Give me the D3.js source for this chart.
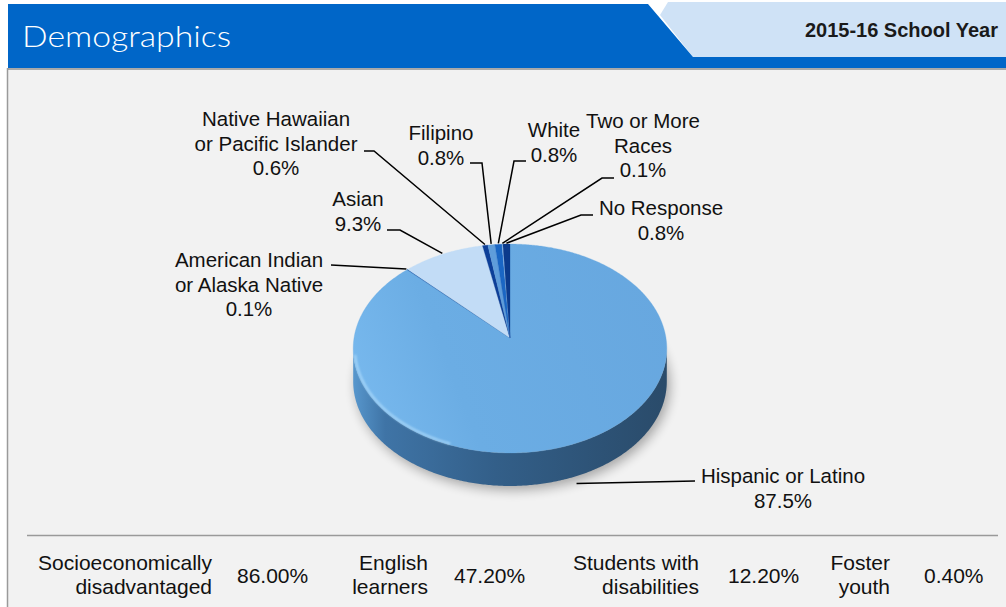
<!DOCTYPE html>
<html>
<head>
<meta charset="utf-8">
<script src="https://cdn.jsdelivr.net/npm/d3@7"></script>
<style>
  body { margin: 0; background: #fff; }
  svg { display: block; }
  text { font-family: "Liberation Sans", Arial, Helvetica, sans-serif; fill: #111; }
</style>
</head>
<body>
<div id="chart"></div>
<script>
// ---- data ----
var groups = ["Hispanic or Latino", "American Indian or Alaska Native", "Asian",
  "Native Hawaiian or Pacific Islander", "Filipino", "White", "Two or More Races", "No Response"];
var shares = [87.5, 0.1, 9.3, 0.6, 0.8, 0.8, 0.1, 0.8];
var labelLines = [["Hispanic or Latino"], ["American Indian", "or Alaska Native"], ["Asian"],
  ["Native Hawaiian", "or Pacific Islander"], ["Filipino"], ["White"], ["Two or More", "Races"], ["No Response"]];
var statNames = [["Socioeconomically", "disadvantaged"], ["English", "learners"],
  ["Students with", "disabilities"], ["Foster", "youth"]];
var statValues = [86.00, 47.20, 12.20, 0.40];
var title = "Demographics";
var yearLabel = "2015-16 School Year";

// ---- styles / layout ----
var sliceColors = ["#69aae2", "#1f5fb0", "#c2dcf6", "#0d3f99", "#5f9ddb", "#1a66c4", "#8cbcec", "#0b3a8c"];
// label placement: centre x, first baseline, leader start and optional elbow
var labelLayout = [
  {x: 783, y: 483, start: [695, 481]},
  {x: 249, y: 267, start: [331, 265]},
  {x: 358, y: 206, start: [387, 230], elbow: [400, 230]},
  {x: 276, y: 126, start: [364, 151], elbow: [374, 151]},
  {x: 441, y: 140, start: [470, 163], elbow: [482, 163]},
  {x: 554, y: 137, start: [526, 161], elbow: [514, 161]},
  {x: 643, y: 128, start: [614, 178], elbow: [602, 178]},
  {x: 661, y: 215, start: [593, 215], elbow: [581, 215]}
];
var statNameX = [212, 428, 699, 890];
var statValueX = [237, 454, 728, 924];

var width = 1006, height = 607;
var cx = 510, cy = 338, R = 156, B = 103.4, k = 0.1005, depth = 33;

var svg = d3.select("#chart").append("svg")
  .attr("width", width)
  .attr("height", height);

var defs = svg.append("defs");
defs.append("filter").attr("id", "shadowBlur").attr("x", "-20%").attr("y", "-20%")
  .attr("width", "140%").attr("height", "160%")
  .append("feGaussianBlur").attr("stdDeviation", 6);
defs.append("filter").attr("id", "softBlur")
  .append("feGaussianBlur").attr("stdDeviation", 1.2);

var wallGrad = defs.append("linearGradient").attr("id", "wallGrad")
  .attr("gradientUnits", "userSpaceOnUse")
  .attr("x1", cx - R).attr("x2", cx + R).attr("y1", 0).attr("y2", 0);
[[0, "#5796cc"], [0.1, "#3f74a6"], [0.45, "#335f89"], [0.8, "#2d5275"], [1, "#2a4b6a"]].forEach(function(s) {
  wallGrad.append("stop").attr("offset", s[0]).attr("stop-color", s[1]);
});
var topGrad = defs.append("linearGradient").attr("id", "topGrad")
  .attr("gradientUnits", "userSpaceOnUse")
  .attr("x1", cx - R).attr("y1", cy + 60).attr("x2", cx + R).attr("y2", cy - 60);
[[0, "#78b9ee"], [0.3, "#6badE4"], [1, "#67a7df"]].forEach(function(s) {
  topGrad.append("stop").attr("offset", s[0]).attr("stop-color", s[1]);
});

// ---- header ----
svg.append("rect").attr("x", 8).attr("y", 70).attr("width", width - 8).attr("height", height - 70)
  .attr("fill", "#f2f2f2");
svg.append("line").attr("x1", 7.5).attr("x2", 7.5).attr("y1", 68).attr("y2", height)
  .attr("stroke", "#9a9a9a").attr("stroke-width", 1.5);
svg.append("path")
  .attr("d", "M668,2L1006,2L1006,57L693,57L660,15Z")
  .attr("fill", "#cfe2f6");
svg.append("path")
  .attr("d", "M8,4L648,4L693,57L1006,57L1006,68L8,68Z")
  .attr("fill", "#0066c8");
svg.append("line").attr("x1", 8).attr("x2", width).attr("y1", 69).attr("y2", 69)
  .attr("stroke", "#8c8c8c").attr("stroke-width", 1.5);

svg.append("text")
  .attr("x", 22).attr("y", 47)
  .attr("textLength", 209)
  .attr("lengthAdjust", "spacingAndGlyphs")
  .style("font-family", "Lato, 'Open Sans', sans-serif")
  .style("font-weight", 300)
  .style("font-size", "30px")
  .style("fill", "#fff")
  .text(title);

svg.append("text")
  .attr("x", 998).attr("y", 37)
  .attr("text-anchor", "end")
  .style("font-weight", "bold")
  .style("font-size", "20px")
  .style("fill", "#1a1a1a")
  .text(yearLabel);

// ---- pie ----
var pie = d3.pie().sort(null).value(function(d) { return d; });
var arcs = pie(shares);

function project(a, r) {
  var u = r * Math.sin(a), v = -r * Math.cos(a), w = 1 / (1 - k * v);
  return [cx + R * u * w, cy + B * v * w];
}
function arcPoints(a0, a1, r, dy) {
  var n = Math.max(2, Math.ceil((a1 - a0) / 0.01));
  var pts = [];
  for (var i = 0; i <= n; i++) {
    var p = project(a0 + (a1 - a0) * i / n, r);
    pts.push([p[0], p[1] + (dy || 0)]);
  }
  return pts;
}
var line = d3.line();

// silhouette tangents of the projected rim
var aRight = Math.acos(-k), aLeft = 2 * Math.PI - aRight;

var pieG = svg.append("g");

// drop shadow
pieG.append("path")
  .attr("d", line(arcPoints(0, 2 * Math.PI, 1.0, depth + 4)) + "Z")
  .attr("transform", "translate(3,0)")
  .attr("fill", "#000")
  .attr("opacity", 0.32)
  .attr("filter", "url(#shadowBlur)");

// side walls
arcs.forEach(function(d, i) {
  var s = Math.max(d.startAngle, aRight), e = Math.min(d.endAngle, aLeft);
  if (s >= e) return;
  var top = arcPoints(s, e, 1, 0);
  var bottom = arcPoints(s, e, 1, depth).reverse();
  pieG.append("path")
    .attr("d", line(top.concat(bottom)) + "Z")
    .attr("fill", i === 0 ? "url(#wallGrad)" : d3.color(sliceColors[i]).darker(1.2));
});

// top faces
pieG.selectAll("path.slice")
  .data(arcs)
  .enter().append("path")
  .attr("class", "slice")
  .attr("d", function(d) {
    return line([[cx, cy]].concat(arcPoints(d.startAngle, d.endAngle, 1, 0))) + "Z";
  })
  .attr("fill", function(d, i) { return i === 0 ? "url(#topGrad)" : sliceColors[i]; })
  .attr("stroke", function(d, i) { return sliceColors[i]; })
  .attr("stroke-width", 0.3);

// rim highlight on the lower left edge
pieG.append("path")
  .attr("d", line(arcPoints(3.5, 4.55, 0.99, 0)))
  .attr("fill", "none")
  .attr("stroke", "#bfe6ff")
  .attr("stroke-width", 2)
  .attr("opacity", 0.7)
  .attr("filter", "url(#softBlur)");

// ---- labels and leaders ----
var labelG = svg.append("g");
arcs.forEach(function(d, i) {
  var L = labelLayout[i];
  var mid = (d.startAngle + d.endAngle) / 2;
  var end = project(mid, 1.01);
  if (-Math.cos(mid) > 0) end = [end[0], end[1] + depth + 6];
  var pts = [L.start];
  if (L.elbow) pts.push(L.elbow);
  pts.push(end);
  labelG.append("path")
    .attr("d", line(pts))
    .attr("fill", "none")
    .attr("stroke", "#000")
    .attr("stroke-width", 1.5);

  var t = labelG.append("text")
    .attr("text-anchor", "middle")
    .style("font-size", "20.5px");
  labelLines[i].concat([d3.format(".1f")(shares[i]) + "%"]).forEach(function(s, j) {
    t.append("tspan").attr("x", L.x).attr("y", L.y + j * 24.5).text(s);
  });
});

// ---- bottom stats ----
svg.append("line").attr("x1", 27).attr("x2", 998).attr("y1", 535.5).attr("y2", 535.5)
  .attr("stroke", "#9a9a9a").attr("stroke-width", 1.5);

var statG = svg.append("g");
statNames.forEach(function(names, i) {
  var t = statG.append("text")
    .attr("text-anchor", "end")
    .style("font-size", "21px");
  names.forEach(function(s, j) {
    t.append("tspan").attr("x", statNameX[i]).attr("y", 570 + j * 24).text(s);
  });
  statG.append("text")
    .attr("x", statValueX[i]).attr("y", 583)
    .style("font-size", "21px")
    .text(d3.format(".2f")(statValues[i]) + "%");
});
</script>
</body>
</html>
